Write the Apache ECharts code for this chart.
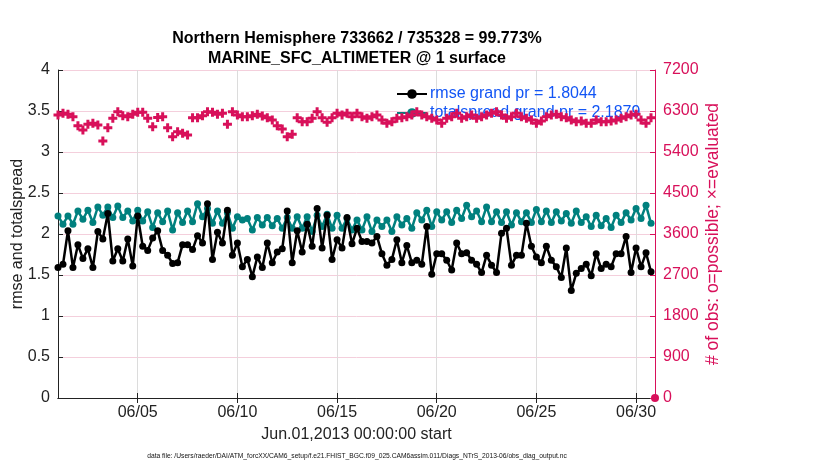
<!DOCTYPE html>
<html>
<head>
<meta charset="utf-8">
<script src="https://cdn.jsdelivr.net/npm/echarts@6/dist/echarts.min.js"></script>
<style>
html,body{margin:0;padding:0;background:#fff;}
#chart{width:830px;height:470px;}
</style>
</head>
<body>
<div id="chart"></div>
<script>
// Times: day-of-month (1.0 = Jun 1 00:00), every 6 hours
const startDay = 1;
const stepDay = 0.25;

const rmse = [
1.59,1.63,2.04,1.59,1.87,1.70,1.82,1.59,2.03,1.94,
2.25,1.67,1.82,1.67,1.94,1.61,2.22,1.85,1.80,1.95,
2.04,1.80,1.74,1.64,1.65,1.87,1.87,1.81,1.98,1.89,
2.37,1.69,2.02,1.89,2.29,1.74,1.89,1.60,1.69,1.48,
1.72,1.59,1.89,1.65,1.78,1.82,2.28,1.65,2.04,1.78,
2.12,1.85,2.31,1.83,2.23,1.69,1.93,1.83,2.20,1.88,
2.07,1.91,1.91,1.89,1.97,1.76,1.62,1.69,1.93,1.65,
1.86,1.65,1.68,1.63,2.09,1.51,1.76,1.76,1.68,1.56,
1.89,1.76,1.77,1.68,1.63,1.53,1.74,1.62,1.53,2.01,
2.07,1.62,1.74,1.74,2.13,1.85,1.72,1.65,1.85,1.68,
1.60,1.47,1.83,1.31,1.52,1.58,1.63,1.49,1.76,1.58,
1.63,1.60,1.76,1.76,1.97,1.53,1.83,1.60,1.77,1.54
];

const totalspread = [
2.22,2.12,2.22,2.12,2.28,2.18,2.29,2.14,2.33,2.23,
2.33,2.20,2.34,2.20,2.28,2.16,2.29,2.16,2.27,2.08,
2.26,2.15,2.28,2.05,2.26,2.14,2.28,2.15,2.37,2.21,
2.31,2.13,2.28,2.13,2.26,2.07,2.21,2.17,2.19,2.05,
2.20,2.11,2.20,2.10,2.19,2.07,2.20,2.07,2.21,2.07,
2.21,2.03,2.23,2.09,2.24,2.07,2.23,2.07,2.19,2.05,
2.17,2.05,2.21,2.03,2.17,2.09,2.17,2.03,2.21,2.11,
2.19,2.07,2.26,2.17,2.29,2.09,2.27,2.17,2.27,2.14,
2.29,2.19,2.35,2.21,2.28,2.15,2.33,2.15,2.27,2.14,
2.27,2.11,2.26,2.15,2.26,2.14,2.30,2.15,2.28,2.14,
2.27,2.16,2.25,2.13,2.28,2.14,2.21,2.09,2.23,2.10,
2.19,2.08,2.23,2.14,2.26,2.17,2.31,2.19,2.35,2.13
];

const nobs = [
6212,6249,6227,6175,5978,5883,6007,6029,5992,5641,
5934,6139,6285,6197,6175,6227,6270,6270,6139,5956,
6160,6175,5934,5736,5846,5810,5773,6153,6153,6197,
6285,6270,6227,6249,6007,6285,6212,6175,6175,6197,
6227,6190,6153,6102,5978,5905,5736,5788,6153,6065,
6065,6139,6285,6153,6051,6153,6249,6212,6249,6175,
6249,6175,6139,6175,6212,6102,6029,6065,6139,6153,
6175,6212,6285,6212,6175,6139,6102,6029,6139,6175,
6249,6139,6175,6212,6139,6175,6212,6249,6285,6212,
6139,6175,6249,6175,6139,6102,6029,6080,6175,6212,
6227,6175,6153,6102,6065,6080,6029,6029,6102,6065,
6065,6080,6102,6139,6175,6212,6227,6102,6029,6153
];

// extra single "possible" point at the right edge
const endPoint = [[30.95, 0]];

const xTicks = [5,10,15,20,25,30];
const leftTicksMax = 4;
const rightTicksMax = 7200;

const rmseLabel = 'rmse grand pr = 1.8044';
const spreadLabel = 'totalspread grand pr = 2.1879';
const titleText = 'Northern Hemisphere 733662 / 735328 = 99.773%\nMARINE_SFC_ALTIMETER @ 1 surface';
const xName = 'Jun.01,2013 00:00:00 start';
const leftName = 'rmse and totalspread';
const rightName = '# of obs: o=possible; \u00d7=evaluated';
const fileText = 'data file: /Users/raeder/DAI/ATM_forcXX/CAM6_setup/f.e21.FHIST_BGC.f09_025.CAM6assim.011/Diags_NTrS_2013-06/obs_diag_output.nc';

const toXY = arr => arr.map((v,i) => [startDay + i*stepDay, v]);

const FONT = '"Liberation Sans", Arial, Helvetica, sans-serif';
const RED = '#D8105A';
const TEAL = '#00807E';
const BLUE = '#1255F5';

const chart = echarts.init(document.getElementById('chart'), null, {renderer:'canvas'});
chart.setOption({
  animation: false,
  backgroundColor: '#fff',
  textStyle: {fontFamily: FONT},
  title: {
    text: titleText,
    left: 352, top: 24, textAlign: 'center',
    textStyle: {fontFamily: FONT, fontSize: 16, fontWeight: 'bold', color: '#000', lineHeight: 20}
  },
  grid: {left: 58, right: 175, top: 70, bottom: 72, containLabel: false, outerBoundsMode: 'none'},
  legend: {
    orient: 'vertical', left: 391, top: 81, itemGap: 3, z: 2,
    itemWidth: 30, itemHeight: 12,
    data: [
      {name: rmseLabel},
      {name: spreadLabel}
    ],
    textStyle: {color: BLUE, fontSize: 16, fontFamily: FONT, padding: [0,0,0,-2]}
  },
  xAxis: [{
    type: 'value', min: 1, max: 30.95,
    name: xName, nameLocation: 'middle', nameGap: 29,
    nameTextStyle: {fontSize: 16, color: '#222', fontFamily: FONT},
    axisLine: {show: true, lineStyle: {color: '#222', width: 1}},
    axisTick: {show: true, inside: true, length: 5, customValues: xTicks, lineStyle: {color: '#222'}},
    axisLabel: {customValues: xTicks, fontSize: 16, color: '#222', margin: 7,
      formatter: v => '06/' + String(Math.round(v)).padStart(2,'0')},
    splitLine: {show: true, lineStyle: {color: '#DCDCDC', width: 1}}
  },{
    type: 'value', min: 1, max: 30.95, position: 'top',
    axisLine: {show: true, lineStyle: {color: '#222', width: 1}},
    axisTick: {show: true, inside: true, length: 5, customValues: xTicks, lineStyle: {color: '#222'}},
    axisLabel: {show: false, customValues: xTicks},
    splitLine: {show: false}
  }],
  yAxis: [{
    type: 'value', min: 0, max: leftTicksMax, interval: 0.5,
    name: leftName, nameLocation: 'middle', nameGap: 32, nameRotate: 90, nameMoveOverlap: false,
    nameTextStyle: {fontSize: 16, color: '#222', fontFamily: FONT},
    axisLine: {show: true, lineStyle: {color: '#222', width: 1}},
    axisTick: {show: true, inside: true, length: 5, lineStyle: {color: '#222'}},
    axisLabel: {fontSize: 16, color: '#222', margin: 8},
    splitLine: {show: false}
  },{
    type: 'value', min: 0, max: rightTicksMax, interval: 900, position: 'right',
    name: rightName, nameLocation: 'middle', nameGap: 49, nameRotate: 90, nameMoveOverlap: false,
    nameTextStyle: {fontSize: 17.5, color: RED, fontFamily: FONT},
    axisLine: {show: true, lineStyle: {color: RED, width: 1}},
    axisTick: {show: true, inside: true, length: 5, lineStyle: {color: RED}},
    axisLabel: {fontSize: 16, color: RED, margin: 8, formatter: v => String(v)},
    splitLine: {show: true, lineStyle: {color: '#F4CFDC', width: 1}}
  }],
  series: [
    {
      name: 'nobs', type: 'scatter', yAxisIndex: 1, z: 3,
      data: toXY(nobs),
      symbol: 'path://M3,0L6,0L6,3L9,3L9,6L6,6L6,9L3,9L3,6L0,6L0,3L3,3Z',
      symbolSize: 9,
      itemStyle: {color: RED, opacity: 1}
    },
    {
      name: 'nobsEnd', type: 'scatter', yAxisIndex: 1, z: 3,
      data: endPoint, symbol: 'circle', symbolSize: 8,
      itemStyle: {color: RED, opacity: 1}
    },
    {
      name: spreadLabel, type: 'line', z: 4,
      data: toXY(totalspread),
      symbol: 'circle', symbolSize: 7, showSymbol: true,
      lineStyle: {color: TEAL, width: 2.5},
      itemStyle: {color: TEAL}
    },
    {
      name: rmseLabel, type: 'line', z: 5,
      data: toXY(rmse),
      symbol: 'circle', symbolSize: 7, showSymbol: true,
      lineStyle: {color: '#000', width: 2.5},
      itemStyle: {color: '#000'}
    }
  ],
  graphic: [{
    type: 'text', x: 357, y: 453,
    style: {text: fileText, font: '6.7px ' + FONT, fill: '#111', align: 'center', textAlign: 'center'}
  }]
});
</script>
</body>
</html>
